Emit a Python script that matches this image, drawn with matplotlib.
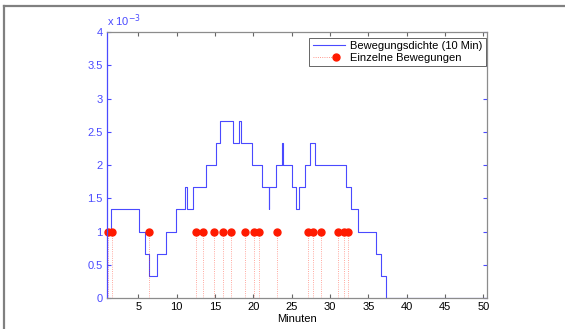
import numpy as np
import matplotlib
matplotlib.use("Agg")
import matplotlib.pyplot as plt
from matplotlib.lines import Line2D
from matplotlib.legend_handler import HandlerBase
from matplotlib.ticker import FuncFormatter

plt.rcParams['font.family'] = ['Liberation Sans', 'DejaVu Sans']

# movement density (x 10^-3), step changes at these minutes
step_t = [0.9, 1.45, 5.13, 5.9, 6.43, 7.47, 8.56, 9.87, 11.04, 11.38, 12.08,
          13.82, 15.12, 15.65, 17.4, 18.1, 18.4, 19.8, 21.1, 22.06, 22.1,
          22.9, 23.8, 23.84, 25.0, 25.6, 25.9, 26.7, 27.35, 28.0, 32.1, 32.8,
          33.7, 36.0, 36.65, 37.3, 50.45]
density = [1.0, 1.333, 1.0, 0.667, 0.333, 0.667, 1.0, 1.333, 1.667, 1.333,
           1.667, 2.0, 2.333, 2.667, 2.333, 2.667, 2.333, 2.0, 1.667, 1.333,
           1.667, 2.0, 2.333, 2.0, 1.667, 1.333, 1.667, 2.0, 2.333, 2.0,
           1.667, 1.333, 1.0, 0.667, 0.333, 0.0]

# single movements (minutes)
moves = [1.0, 1.6, 6.45, 12.5, 13.5, 14.9, 16.1, 17.1, 18.9, 20.1, 20.7,
         23.1, 27.1, 27.8, 28.8, 31.0, 31.8, 32.4]
move_level = 1.0

xticks = [5, 10, 15, 20, 25, 30, 35, 40, 45, 50]
yticks = [0, 0.5, 1, 1.5, 2, 2.5, 3, 3.5, 4]

blue = '#4a4aff'
red = '#ff1a00'


class StemHandler(HandlerBase):
    # dotted stem with the marker near the end, like the matlab legend
    def create_artists(self, legend, orig_handle, xdescent, ydescent,
                       width, height, fontsize, trans):
        yy = height / 2 - ydescent
        ln = Line2D([-xdescent, 0.6 * width - xdescent], [yy, yy], color=red,
                    ls=':', lw=0.6, alpha=0.6)
        dot = Line2D([0.72 * width - xdescent], [yy], marker='o', color=red,
                     ms=5, ls='none')
        ln.set_transform(trans)
        dot.set_transform(trans)
        return [ln, dot]


fig = plt.figure(figsize=(5.65, 3.29), dpi=100)
ax = fig.add_axes([0.1889, 0.0942, 0.6725, 0.8085])

yv = density + [density[-1]]
line, = ax.step(step_t, yv, where='post', color=blue, lw=0.8,
                label='Bewegungsdichte (10 Min)')

ax.vlines(moves, 0, move_level, colors=red, linestyles=':', lw=0.6, alpha=0.5)
pts, = ax.plot(moves, [move_level] * len(moves), 'o', color=red, ms=5,
               clip_on=False)

ax.set_xlim(0.88, 50.45)
ax.set_ylim(0, 4)
ax.set_xticks(xticks)
ax.set_yticks(yticks)
ax.yaxis.set_major_formatter(FuncFormatter(lambda v, p: '%g' % v))

for s in ['top', 'right', 'bottom']:
    ax.spines[s].set_color('0.55')
ax.spines['left'].set_color(blue)
for s in ax.spines.values():
    s.set_linewidth(0.9)

ax.tick_params(axis='x', direction='in', top=True, length=3, color='0.4',
               labelsize=8, labelcolor='black', pad=3)
ax.tick_params(axis='y', direction='in', right=True, length=3, color=blue,
               labelsize=8, labelcolor=blue, pad=3)

ax.set_xlabel('Minuten', fontsize=8, labelpad=1)
ax.text(0.0, 1.012, r'x 10$^{-3}$', transform=ax.transAxes, fontsize=8,
        color=blue, ha='left', va='bottom')

leg = ax.legend([line, pts], ['Bewegungsdichte (10 Min)', 'Einzelne Bewegungen'],
                handler_map={pts: StemHandler()}, loc='upper right',
                bbox_to_anchor=(0.997, 0.978), fontsize=8, fancybox=False,
                edgecolor='0.3', framealpha=1, handlelength=2.9,
                handletextpad=0.45, borderpad=0.3, labelspacing=0.15,
                borderaxespad=0)
leg.get_frame().set_linewidth(0.6)

# outer frame of the screenshot
fig.add_artist(Line2D([4 / 565, 4 / 565], [0, 1 - 6 / 329],
                      transform=fig.transFigure, color='0.5', lw=1.6))
fig.add_artist(Line2D([4 / 565, 1], [1 - 6 / 329, 1 - 6 / 329],
                      transform=fig.transFigure, color='0.5', lw=1.6))

fig.savefig('out.png', dpi=100)
